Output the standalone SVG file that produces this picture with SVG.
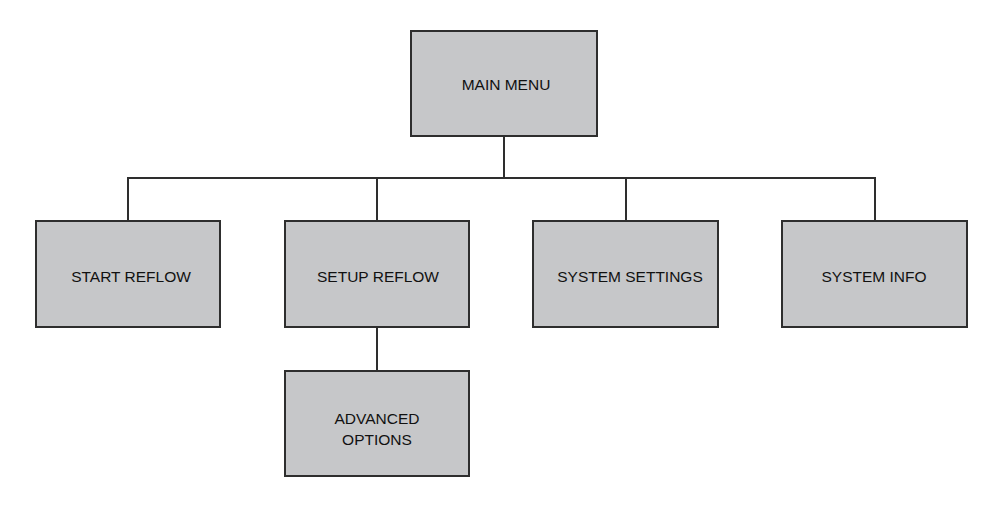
<svg xmlns="http://www.w3.org/2000/svg" width="1000" height="512" viewBox="0 0 1000 512">
<style>
.box{fill:#c6c7c9;stroke:#2e2e2e;stroke-width:2}
.lbl{font-family:"Liberation Sans",Arial,sans-serif;font-size:15.5px;fill:#111;text-anchor:middle}
.conn{fill:none;stroke:#2e2e2e;stroke-width:2}
</style>
<rect width="1000" height="512" fill="#fff"/>
<g id="connectors">
<path class="conn" d="M504,137 V178 M128,221 V178 H875 V221 M377,178 V221 M626,178 V221 M377,327 V371"/>
</g>
<g id="main-menu">
<rect class="box" x="411" y="31" width="186" height="105"/>
<text class="lbl" x="506" y="90">MAIN MENU</text>
</g>
<g id="start-reflow">
<rect class="box" x="36" y="221" width="184" height="106"/>
<text class="lbl" x="131" y="282">START REFLOW</text>
</g>
<g id="setup-reflow">
<rect class="box" x="285" y="221" width="184" height="106"/>
<text class="lbl" x="378" y="282">SETUP REFLOW</text>
</g>
<g id="system-settings">
<rect class="box" x="533" y="221" width="185" height="106"/>
<text class="lbl" x="630" y="282">SYSTEM SETTINGS</text>
</g>
<g id="system-info">
<rect class="box" x="782" y="221" width="185" height="106"/>
<text class="lbl" x="874" y="282">SYSTEM INFO</text>
</g>
<g id="advanced-options">
<rect class="box" x="285" y="371" width="184" height="105"/>
<text class="lbl" x="377" y="424">ADVANCED</text>
<text class="lbl" x="377" y="445">OPTIONS</text>
</g>
</svg>
